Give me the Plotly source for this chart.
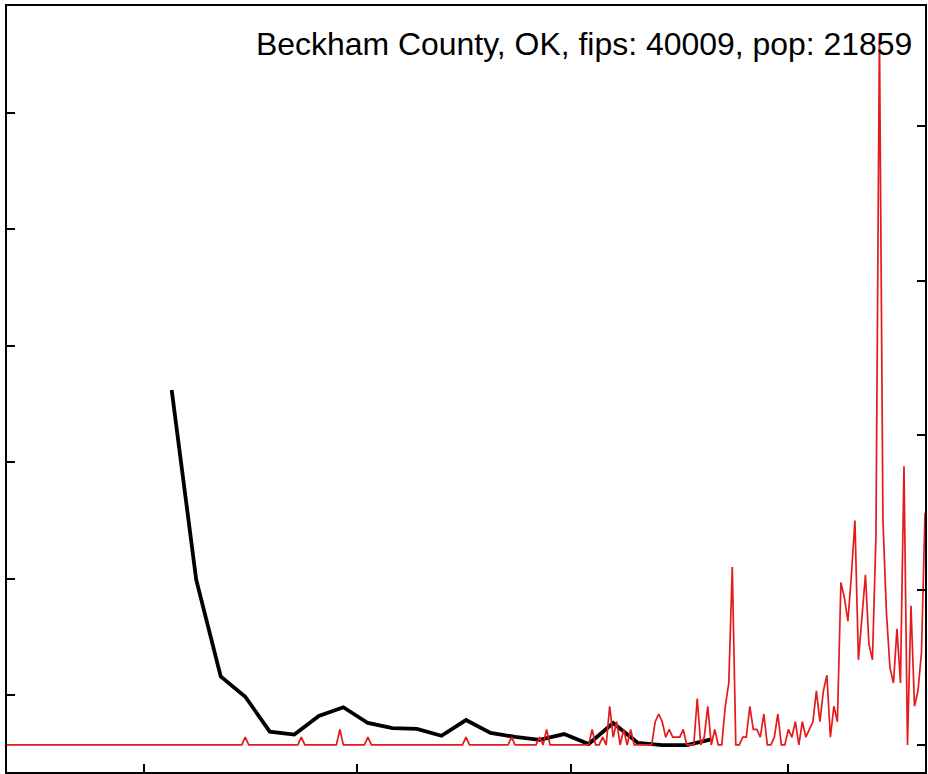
import pandas as pd
import plotly.graph_objects as go

# ---- data -------------------------------------------------------------
start_date = "2020-01-22"
cases_jan = [0] * 10
cases_feb = [0] * 29
cases_mar = [0, 0, 0, 0, 0, 0, 0, 0, 0, 0, 0, 0, 0, 0, 0, 0, 0, 0, 0, 0,
             0, 0, 0, 0, 0, 0, 0, 0, 0, 1, 0]
cases_apr = [0, 0, 0, 0, 0, 0, 0, 0, 0, 0, 0, 0, 0, 0, 1, 0, 0, 0, 0, 0,
             0, 0, 0, 0, 0, 2, 0, 0, 0, 0]
cases_may = [0, 0, 0, 1, 0, 0, 0, 0, 0, 0, 0, 0, 0, 0, 0, 0, 0, 0, 0, 0,
             0, 0, 0, 0, 0, 0, 0, 0, 0, 0, 0]
cases_jun = [1, 0, 0, 0, 0, 0, 0, 0, 0, 0, 0, 0, 0, 1, 0, 0, 0, 0, 0, 0,
             0, 1, 0, 2, 0, 0, 0, 0, 0, 0]
cases_jul = [0, 0, 0, 0, 0, 0, 2, 0, 0, 1, 0, 5, 1, 3, 0, 2, 0, 2, 0, 0,
             0, 0, 0, 0, 3, 4, 3, 1, 2, 1, 1]
cases_aug = [1, 2, 0, 0, 0, 6, 0, 1, 5, 0, 2, 0, 0, 5, 8, 23, 0, 0, 1, 1,
             5, 2, 2, 1, 4, 0, 0, 1, 4, 0, 0]
cases_sep = [2, 1, 3, 0, 3, 1, 2, 3, 7, 3, 7, 9, 1, 5, 3, 21, 19, 16, 22, 29,
             11, 17, 22, 13, 11, 27, 92, 29, 17, 10]
cases_oct = [8, 15, 8, 36, 0, 18, 5, 7, 12, 30]

daily_cases = (cases_jan + cases_feb + cases_mar + cases_apr + cases_may +
               cases_jun + cases_jul + cases_aug + cases_sep + cases_oct)
daily_dates = pd.date_range(start_date, periods=len(daily_cases), freq="D")

weekly_start = "2020-03-09"
weekly_values = [36.2, 19.9, 11.6, 9.85, 6.85, 6.6, 8.2, 8.95, 7.6, 7.15, 7.1,
                 6.5, 7.85, 6.75, 6.4, 6.15, 6.65, 5.8, 7.6, 5.9, 5.7, 5.7, 6.2]
weekly_dates = pd.date_range(weekly_start, periods=len(weekly_values), freq="7D")

x_tick_dates = ["2020-03-01", "2020-05-01", "2020-07-01", "2020-09-01"]
left_ticks = [10, 20, 30, 40, 50, 60]
right_ticks = [0, 20, 40, 60, 80]
title_text = "Beckham County, OK, fips: 40009, pop: 21859"

# ---- figure -----------------------------------------------------------
fig = go.Figure()
fig.add_trace(go.Scatter(x=daily_dates, y=daily_cases, mode="lines",
                         line=dict(color="#E41A1C", width=1.7),
                         yaxis="y2", showlegend=False))
fig.add_trace(go.Scatter(x=weekly_dates, y=weekly_values, mode="lines",
                         line=dict(color="black", width=3.8),
                         yaxis="y", showlegend=False))

ymax = max(daily_cases)
fig.update_layout(
    width=928, height=774,
    margin=dict(l=7, r=3, t=6, b=2),
    paper_bgcolor="white", plot_bgcolor="white",
    xaxis=dict(range=[daily_dates[0], daily_dates[-1]],
               tickvals=x_tick_dates, showticklabels=False,
               ticks="inside", ticklen=8, tickwidth=1.5, tickcolor="black",
               showline=True, linecolor="black", linewidth=2, mirror=True,
               showgrid=False, zeroline=False),
    yaxis=dict(range=[3.39, 69.17], tickvals=left_ticks, showticklabels=False,
               ticks="inside", ticklen=8, tickwidth=1.5, tickcolor="black",
               showline=True, linecolor="black", linewidth=2, mirror=True,
               showgrid=False, zeroline=False),
    yaxis2=dict(range=[-0.038 * ymax, 1.038 * ymax], tickvals=right_ticks,
                showticklabels=False, overlaying="y", side="right",
                ticks="inside", ticklen=8, tickwidth=1.5, tickcolor="black",
                showline=False, showgrid=False, zeroline=False),
    annotations=[dict(text=title_text, xref="paper", yref="paper",
                      x=0.988, y=0.9766, xanchor="right", yanchor="top",
                      showarrow=False,
                      font=dict(family="Liberation Sans, Arial", size=31.95,
                                color="black"))],
)

fig.write_html("out.html",
               config={"displayModeBar": False},
               post_script="document.body.style.margin='0';"
                           "document.body.style.overflow='hidden';")
